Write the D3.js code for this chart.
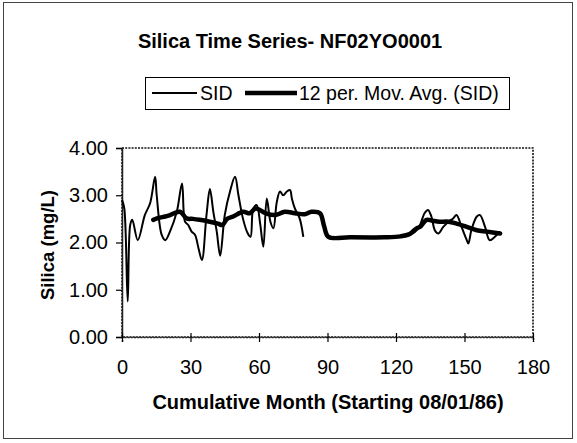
<!DOCTYPE html>
<html>
<head>
<meta charset="utf-8">
<script src="https://cdn.jsdelivr.net/npm/d3@7"></script>
<style>
  html, body { margin: 0; padding: 0; background: #fff; }
  svg { display: block; font-family: "Liberation Sans", Arial, sans-serif; }
</style>
</head>
<body>
<svg id="chart" width="577" height="443"></svg>
<script>
// ---- Data; null marks a gap in the series ----
const sidMonths = [0, 1, 2.5, 3.6, 4.5, 6.9, 10, 12.3, 14.5, 15.2, 17.4, 19, 21, 24, 26.3, 27.6, 29, 30.5, 32, 33.5, 35, 37, 38.5, 40, 41.5, 43, 45, 47.3, 49.5, 51, 53, 55, 56.3, 57.5, 59, 60.5, 61.9, 63.4, 65, 66.3, 67.8, 69.2, 70.6, 72.2, 73.6, 74.4, 75.7, 77.8, 79.4, 85, 90.5, 110, 126, 129.8, 132.5, 134, 135.5, 137, 138.5, 140.7, 143, 145, 146.5, 148.7, 151, 151.7, 153, 155.4, 156.8, 159, 161, 163.3, 165.6];
const sidValues = [2.90, 2.72, 0.75, 2.37, 2.48, 2.05, 2.58, 2.83, 3.39, 3.00, 2.16, 2.05, 2.23, 2.65, 3.25, 2.44, 2.37, 2.23, 2.16, 1.88, 1.63, 2.58, 3.13, 2.65, 2.23, 1.72, 2.58, 3.08, 3.39, 3.00, 2.50, 2.20, 2.12, 2.72, 2.79, 2.40, 1.91, 2.93, 2.44, 2.30, 2.86, 3.08, 3.00, 3.08, 3.11, 2.93, 2.72, 2.51, 2.12, null, 2.11, 2.11, 2.16, 2.30, 2.62, 2.69, 2.55, 2.26, 2.19, 2.33, 2.44, 2.51, 2.58, 2.33, 2.05, 1.98, 2.26, 2.55, 2.58, 2.33, 2.05, 2.12, 2.23];

const maMonths = [13.7, 16, 19, 21, 25.4, 28.3, 31, 34, 38.4, 42, 44, 46, 48.7, 53, 56, 58.5, 62.9, 67, 71.3, 75.7, 80, 83, 86.7, 88.5, 90.4, 100, 115, 122, 126, 129, 130.5, 133.4, 136, 139, 143, 146.5, 151, 155.4, 160, 165.6];
const maValues = [2.48, 2.52, 2.55, 2.58, 2.65, 2.51, 2.50, 2.48, 2.44, 2.40, 2.37, 2.50, 2.55, 2.65, 2.62, 2.72, 2.62, 2.58, 2.65, 2.62, 2.60, 2.65, 2.62, 2.35, 2.12, 2.11, 2.11, 2.13, 2.18, 2.30, 2.33, 2.48, 2.46, 2.44, 2.44, 2.40, 2.33, 2.26, 2.23, 2.19];

const xTicks = [0, 30, 60, 90, 120, 150, 180];
const yTicks = [0, 1, 2, 3, 4];

const titleText = "Silica Time Series- NF02YO0001";
const xLabel = "Cumulative Month (Starting 08/01/86)";
const yLabel = "Silica (mg/L)";
const legendNames = ["SID", "12 per. Mov. Avg. (SID)"];

// ---- Layout ----
const svg = d3.select("#chart");
const plot = { left: 122, right: 533, top: 148, bottom: 337 };

const x = d3.scaleLinear().domain([0, 180]).range([plot.left, plot.right]);
const y = d3.scaleLinear().domain([0, 4]).range([plot.bottom, plot.top]);

// Outer chart border
svg.append("rect")
  .attr("x", 3.5).attr("y", 2.5).attr("width", 569).attr("height", 436)
  .attr("fill", "none").attr("stroke", "#444").attr("stroke-width", 1);

// Title
svg.append("text")
  .attr("x", 290).attr("y", 48)
  .attr("text-anchor", "middle")
  .attr("font-weight", "bold").attr("font-size", 20)
  .text(titleText);

// Legend
const lg = svg.append("g");
lg.append("rect")
  .attr("x", 145.5).attr("y", 77.5).attr("width", 364).attr("height", 32)
  .attr("fill", "#fff").attr("stroke", "#000").attr("stroke-width", 1);
lg.append("line").attr("x1", 152).attr("x2", 197).attr("y1", 93).attr("y2", 93)
  .attr("stroke", "#000").attr("stroke-width", 2);
lg.append("text").attr("x", 200).attr("y", 100).attr("font-size", 19.5).text(legendNames[0]);
lg.append("line").attr("x1", 245).attr("x2", 297).attr("y1", 93).attr("y2", 93)
  .attr("stroke", "#000").attr("stroke-width", 4.5);
lg.append("text").attr("x", 299).attr("y", 100).attr("font-size", 19.5).text(legendNames[1]);

// Plot area frame (dotted, as in scan)
svg.append("rect")
  .attr("x", plot.left).attr("y", plot.top)
  .attr("width", plot.right - plot.left).attr("height", plot.bottom - plot.top)
  .attr("fill", "none").attr("stroke", "#111").attr("stroke-width", 1.6)
  .attr("stroke-dasharray", "2,1.2");

// Y axis
const yAxis = d3.axisLeft(y).tickValues(yTicks).tickFormat(d3.format(".2f")).tickSize(6).tickPadding(8);
const gy = svg.append("g").attr("transform", `translate(${plot.left},0)`).call(yAxis);
gy.select(".domain").attr("stroke", "#222").attr("stroke-width", 1.5);
gy.selectAll(".tick line").attr("stroke", "#000").attr("stroke-width", 1.2);
gy.selectAll(".tick text").attr("font-size", 20).attr("fill", "#000")
  .attr("font-family", "Liberation Sans, Arial, sans-serif");

// X axis
const xAxis = d3.axisBottom(x).tickValues(xTicks).tickFormat(d3.format("d")).tickSize(5).tickPadding(18);
const gx = svg.append("g").attr("transform", `translate(0,${plot.bottom})`).call(xAxis);
gx.select(".domain").attr("stroke", "#222").attr("stroke-width", 1.5).attr("stroke-dasharray", "2,1.2");
gx.selectAll(".tick line").attr("y1", -4).attr("stroke", "#000").attr("stroke-width", 1.2);
gx.selectAll(".tick text").attr("font-size", 20).attr("fill", "#000")
  .attr("font-family", "Liberation Sans, Arial, sans-serif");

// Axis labels
svg.append("text")
  .attr("x", 328).attr("y", 409)
  .attr("text-anchor", "middle").attr("font-weight", "bold").attr("font-size", 20)
  .text(xLabel);
svg.append("text")
  .attr("transform", "translate(54,245) rotate(-90)")
  .attr("text-anchor", "middle").attr("font-weight", "bold").attr("font-size", 18.5)
  .text(yLabel);

// Series
const sid = sidMonths.map((m, i) => [m, sidValues[i]]);
const ma = maMonths.map((m, i) => [m, maValues[i]]);
const line = d3.line()
  .defined(d => d[1] != null)
  .x(d => x(d[0])).y(d => y(d[1]))
  .curve(d3.curveCatmullRom.alpha(0.5));

svg.append("path").datum(sid)
  .attr("d", line).attr("fill", "none").attr("stroke", "#000")
  .attr("stroke-width", 2).attr("stroke-linejoin", "round");
svg.append("path").datum(ma)
  .attr("d", line).attr("fill", "none").attr("stroke", "#000")
  .attr("stroke-width", 4.5).attr("stroke-linejoin", "round").attr("stroke-linecap", "round");
</script>
</body>
</html>
